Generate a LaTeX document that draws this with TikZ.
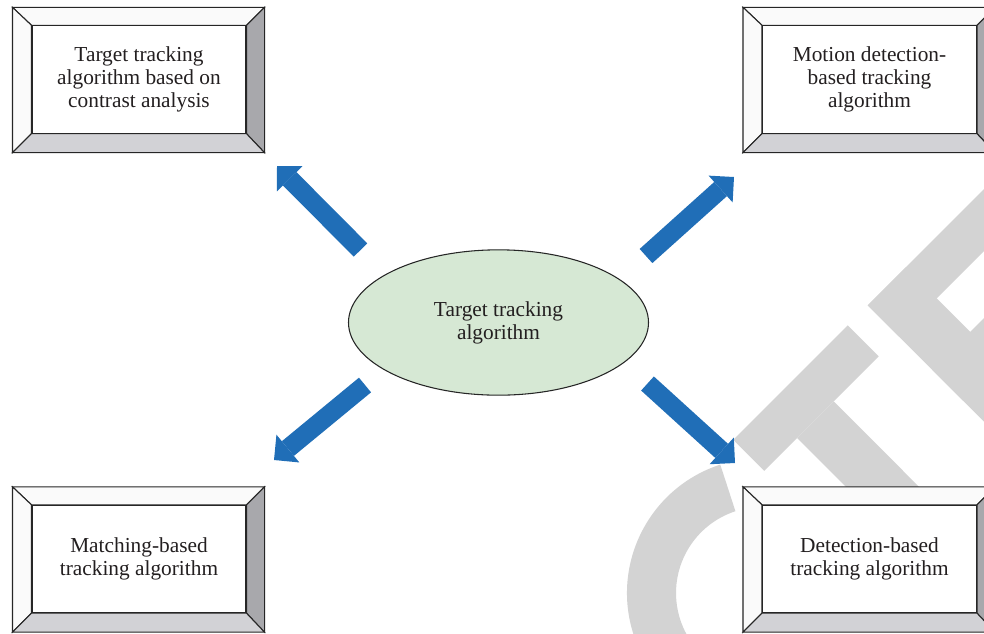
\documentclass[tikz,border=0pt]{standalone}
\usepackage{fontspec}
\setmainfont{Liberation Serif}
\usepackage{xcolor}
\usetikzlibrary{shapes,arrows,positioning,calc,arrows.meta}

\definecolor{arrowblue}{RGB}{32,110,183}
\definecolor{ellgreen}{RGB}{214,232,212}
\definecolor{bevright}{RGB}{168,168,172}
\definecolor{bevbottom}{RGB}{210,210,214}
\definecolor{bevlight}{RGB}{250,250,250}
\definecolor{wmark}{RGB}{211,211,211}
\definecolor{textgray}{RGB}{35,31,32}

\tikzset{
  boxfont/.style={font=\fontsize{16}{17.3}\selectfont, text=textgray},
  bevelbox/.style={boxfont, draw=black!85, line width=0.8pt, fill=white,
    minimum width=160.5pt, minimum height=80.5pt, inner sep=0pt, align=center},
  bevedge/.style={draw=black!85, line width=0.8pt},
  centerell/.style={boxfont, ellipse, draw=black!85, line width=0.8pt, fill=ellgreen,
    minimum width=225pt, minimum height=109pt, inner sep=0pt, align=center},
  blockarrow/.style={arrowblue, line width=14.25pt,
    -{Triangle[width=27pt, length=13.5pt, line width=0pt]}},
  wm/.style={fill=wmark}
}

% bevel frame round a named box node
\newcommand{\bevelframe}[1]{%
  \path (#1.north west) ++(-19,-18) coordinate (#1-a)
        (#1.north east) ++(18,-18) coordinate (#1-b)
        (#1.south east) ++(18,19) coordinate (#1-c)
        (#1.south west) ++(-19,19) coordinate (#1-d);
  \filldraw[bevedge, fill=bevlight] (#1-a) -- (#1-b) -- (#1.north east) -- (#1.north west) -- cycle; % top
  \filldraw[bevedge, fill=bevlight] (#1-a) -- (#1.north west) -- (#1.south west) -- (#1-d) -- cycle; % left
  \filldraw[bevedge, fill=bevright] (#1-b) -- (#1-c) -- (#1.south east) -- (#1.north east) -- cycle; % right
  \filldraw[bevedge, fill=bevbottom] (#1-d) -- (#1.south west) -- (#1.south east) -- (#1-c) -- cycle; % bottom
}

\begin{document}
\begin{tikzpicture}[x=0.75pt, y=-0.75pt]
    \useasboundingbox (0,0) rectangle (984,633);
    \clip (0,0) rectangle (984,633);

    % watermark letters
    \fill[wm] ($(762,593)+(-108:135)$) arc[start angle=-108, end angle=-290, radius=135]
        -- ($(762,593)+(-290:86)$) arc[start angle=-290, end angle=-108, radius=86] -- cycle; % C
    \fill[wm] (733.2,439.8) -- (847.7,325.3) -- (878.7,356.3) -- (764.2,470.8) -- cycle; % T bar
    \fill[wm] (797,438) -- (833.7,401.3) -- (1016,584) -- (979.5,620.5) -- cycle; % T stem
    \fill[wm] (867.7,305.3) -- (905.7,267.3) -- (1089.7,451.3) -- (1051.7,489.3) -- cycle; % E spine
    \fill[wm] (867.7,305.3) -- (1036.5,136.5) -- (1067.5,167.5) -- (898.7,336.3) -- cycle;
    \fill[wm] (932.2,369.9) -- (1101,201) -- (1132,232) -- (963.2,400.9) -- cycle;

    \node[centerell] (tracker) at (498.5,322.5) {Target tracking\\algorithm};

    \node[bevelbox] (contrast) at (139,79.5) {Target tracking\\algorithm based on\\contrast analysis};
    \node[bevelbox] (motion) at (869.5,79.5) {Motion detection-\\based tracking\\algorithm};
    \node[bevelbox] (matching) at (139,559) {Matching-based\\tracking algorithm};
    \node[bevelbox] (detection) at (869.5,559) {Detection-based\\tracking algorithm};
    \bevelframe{contrast}
    \bevelframe{motion}
    \bevelframe{matching}
    \bevelframe{detection}

    \coordinate (ulS) at (360.5,250);
    \coordinate (ulE) at (277,166);
    \coordinate (urS) at (646,256);
    \coordinate (urE) at (734,177);
    \coordinate (llS) at (365,385);
    \coordinate (llE) at (274,460);
    \coordinate (lrS) at (647.5,383.5);
    \coordinate (lrE) at (735,463);

    \draw[blockarrow] (ulS) -- (ulE);
    \draw[blockarrow] (urS) -- (urE);
    \draw[blockarrow] (llS) -- (llE);
    \draw[blockarrow] (lrS) -- (lrE);
\end{tikzpicture}
\end{document}
